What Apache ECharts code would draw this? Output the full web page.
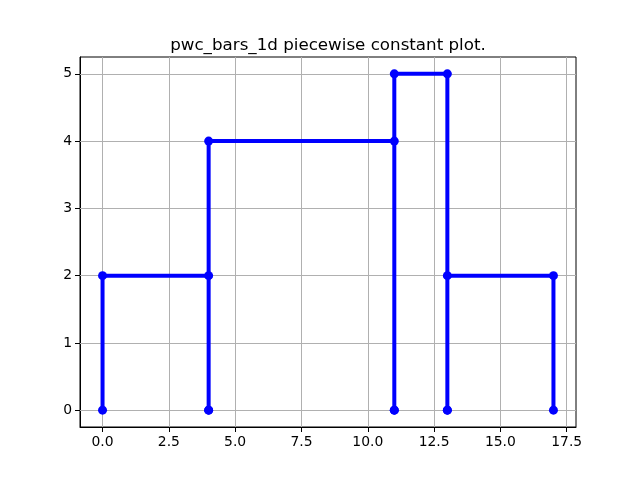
<!DOCTYPE html>
<html><head><meta charset="utf-8">
<script src="https://cdn.jsdelivr.net/npm/echarts@6/dist/echarts.min.js"></script>
<style>html,body{margin:0;padding:0;background:#fff}#c{width:640px;height:480px}</style>
</head><body><div id="c"></div>
<script>
const edges = [0, 4, 11, 13, 17];
const values = [2, 4, 5, 2];
const xTicks = [0, 2.5, 5, 7.5, 10, 12.5, 15, 17.5];
const yTicks = [0, 1, 2, 3, 4, 5];
const titleText = 'pwc_bars_1d piecewise constant plot.';

const pts = [];
for (let i = 0; i < values.length; i++) {
  pts.push([edges[i], 0], [edges[i], values[i]], [edges[i+1], values[i]], [edges[i+1], 0]);
}

const chart = echarts.init(document.getElementById('c'), null, {renderer: 'canvas'});
const font = 'DejaVu Sans';
chart.setOption({
  animation: false,
  backgroundColor: '#fff',
  color: ['#0000ff'],
  title: {
    text: titleText, left: 323, top: 32, textAlign: 'center',
    textStyle: {fontFamily: font, fontSize: 16.7, fontWeight: 'normal', color: '#000'}
  },
  grid: {left: 80, right: 64, top: 57, bottom: 53, show: true, borderColor: '#000', borderWidth: 1, backgroundColor: 'transparent'},
  xAxis: {
    type: 'value', min: -0.85, max: 17.85,
    axisLine: {show: true, onZero: false, lineStyle: {color: '#000', width: 1}},
    axisTick: {show: true, length: 5, lineStyle: {color: '#000'}, customValues: xTicks},
    axisLabel: {
      fontFamily: font, fontSize: 13.9, color: '#000', margin: 8,
      customValues: xTicks,
      formatter: v => v.toFixed(1)
    },
    splitLine: {show: false}
  },
  yAxis: {
    type: 'value', min: -0.25, max: 5.25,
    axisLine: {show: true, onZero: false, lineStyle: {color: '#000', width: 1}},
    axisTick: {show: true, length: 5, lineStyle: {color: '#000'}, customValues: yTicks},
    axisLabel: {
      fontFamily: font, fontSize: 13.9, color: '#000', margin: 8,
      customValues: yTicks,
      formatter: v => String(v)
    },
    splitLine: {show: false}
  },
  series: [{
    type: 'line', data: pts, symbol: 'circle', symbolSize: 9, z: 5,
    lineStyle: {color: '#0000ff', width: 4},
    itemStyle: {color: '#0000ff', borderWidth: 0},
    emphasis: {disabled: true}
  }, {
    type: 'scatter', data: [], silent: true, z: 1,
    markLine: {
      silent: true, symbol: 'none', animation: false, z: 1,
      label: {show: false},
      lineStyle: {color: '#b0b0b0', width: 1, type: 'solid'},
      emphasis: {disabled: true},
      data: xTicks.map(v => ({xAxis: v})).concat(yTicks.map(v => ({yAxis: v})))
    }
  }]
});
</script></body></html>
